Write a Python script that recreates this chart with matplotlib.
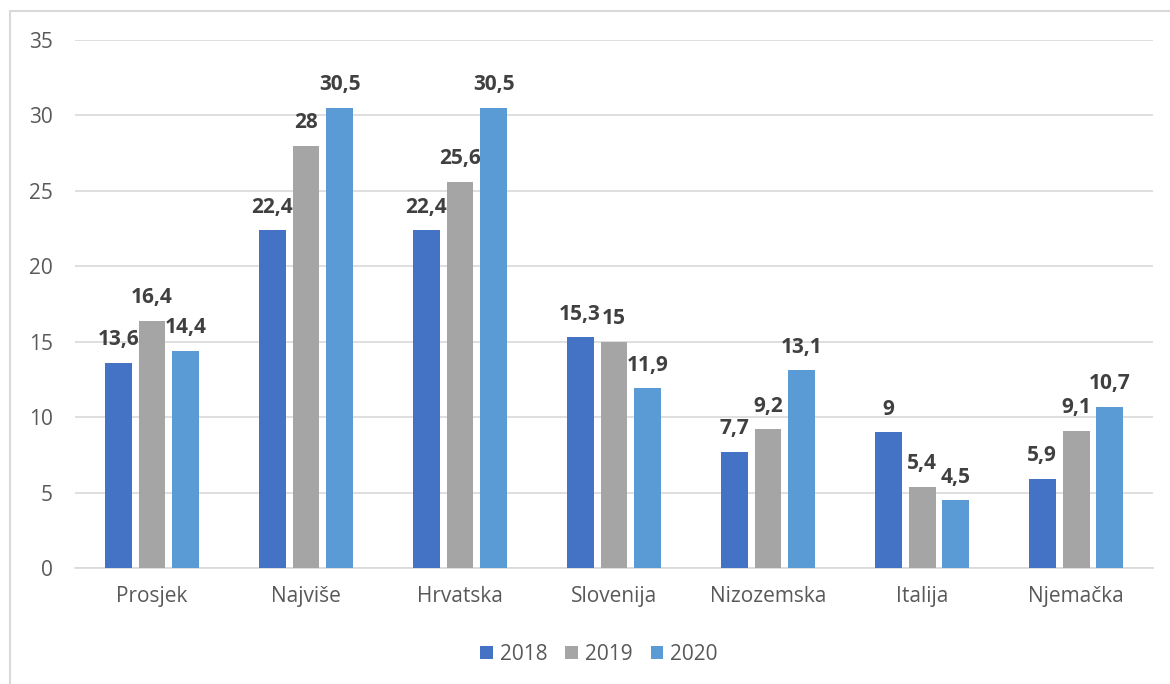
import numpy as np
import matplotlib.pyplot as plt
from matplotlib.patches import Rectangle, Patch

# --- Data ---
categories = ["Prosjek", "Najviše", "Hrvatska", "Slovenija", "Nizozemska", "Italija", "Njemačka"]
years = ["2018", "2019", "2020"]
v2018 = [13.6, 22.4, 22.4, 15.3, 7.7, 9, 5.9]
v2019 = [16.4, 28, 25.6, 15, 9.2, 5.4, 9.1]
v2020 = [14.4, 30.5, 30.5, 11.9, 13.1, 4.5, 10.7]
colors = ["#4472C4", "#A5A5A5", "#5B9BD5"]

plt.rcParams['font.family'] = ['Open Sans', 'DejaVu Sans']

fig = plt.figure(figsize=(11.7, 6.84), dpi=100)
ax = fig.add_axes([0.0641, 0.1696, 0.9214, 0.7719])

# outer border like the Excel chart area
fig.patches.append(Rectangle((10 / 1170, -0.2), 1.2, 0.2 + (684 - 11) / 684,
                             transform=fig.transFigure, fill=False,
                             edgecolor="#D9D9D9", linewidth=1.5))

x = np.arange(len(categories))
w = 0.175
step = 0.22

def fmt(v):
    return ("%g" % v).replace(".", ",")

for i, (vals, c) in enumerate(zip([v2018, v2019, v2020], colors)):
    pos = x + (i - 1) * step
    ax.bar(pos, vals, width=w, color=c, zorder=3)
    for p, v in zip(pos, vals):
        ax.annotate(fmt(v), (p, v), xytext=(0, 9), textcoords="offset points",
                    ha="center", va="bottom", fontsize=15, fontweight="bold",
                    color="#404040")

ax.set_xlim(-0.5, len(categories) - 0.5)
ax.set_ylim(0, 35)
ax.set_yticks(range(0, 36, 5))
ax.set_xticks(x)
ax.set_xticklabels(categories)
ax.tick_params(axis="both", length=0, labelsize=15, colors="#595959")
ax.tick_params(axis="y", pad=16)
ax.tick_params(axis="x", pad=13)
ax.grid(axis="y", color="#D9D9D9", linewidth=1.2, zorder=0)
for s in ["top", "right", "left"]:
    ax.spines[s].set_visible(False)
ax.spines["bottom"].set_color("#D9D9D9")
ax.spines["bottom"].set_linewidth(1.2)

handles = [Patch(facecolor=c, label=y) for c, y in zip(colors, years)]
fig.legend(handles=handles, loc="center", bbox_to_anchor=(0.512, (684 - 654) / 684),
           ncol=3, frameon=False, fontsize=15, labelcolor="#595959",
           handlelength=0.6, handleheight=0.6, handletextpad=0.35, columnspacing=0.85)

fig.savefig("out.png", dpi=100)
